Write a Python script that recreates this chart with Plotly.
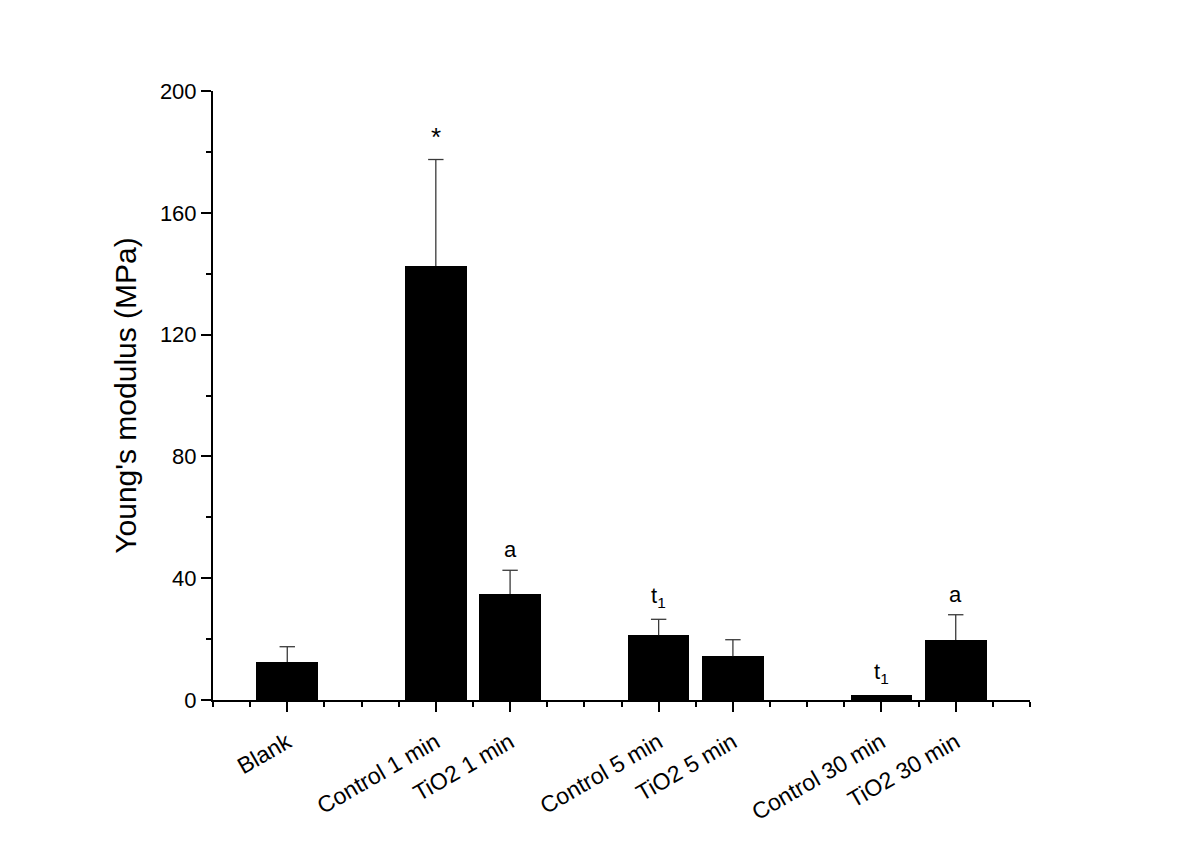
import plotly.graph_objects as go

# Bar data
groups = ["Blank", "Control 1 min", "TiO2 1 min", "Control 5 min",
          "TiO2 5 min", "Control 30 min", "TiO2 30 min"]
positions = [1, 3, 4, 6, 7, 9, 10]
modulus = [12.5, 142.5, 34.8, 21.3, 14.4, 1.6, 19.7]
err_plus = [5.0, 35.0, 7.8, 5.2, 5.4, 0.0, 8.3]
marks = ["", "*", "a", "t<sub>1</sub>", "", "t<sub>1</sub>", "a"]

FONT = "Liberation Sans, Arial"

fig = go.Figure()

fig.add_trace(go.Bar(
    x=positions, y=modulus, width=0.83,
    marker=dict(color="black", line=dict(width=0)),
    showlegend=False, hoverinfo="x+y",
))

# one-sided (upper) error bars: whisker line + cap marker
wx, wy, cx, cy = [], [], [], []
for x, y, e in zip(positions, modulus, err_plus):
    if e <= 0:
        continue
    wx += [x, x, None]
    wy += [y, y + e, None]
    cx.append(x)
    cy.append(y + e)

fig.add_trace(go.Scatter(x=wx, y=wy, mode="lines",
                         line=dict(color="#3a3a3a", width=1.3),
                         showlegend=False, hoverinfo="skip"))
fig.add_trace(go.Scatter(x=cx, y=cy, mode="markers",
                         marker=dict(symbol="line-ew", size=11,
                                     line=dict(color="#3a3a3a", width=1.3)),
                         showlegend=False, hoverinfo="skip"))

# significance letters above the bars
for x, y, e, m in zip(positions, modulus, err_plus, marks):
    if not m:
        continue
    fig.add_annotation(x=x, y=y + e, text=m, showarrow=False,
                       yanchor="bottom", yshift=6,
                       font=dict(family=FONT, size=26 if m == "*" else 22,
                                 color="black"))

fig.update_xaxes(
    range=[0, 11], tickmode="array", tickvals=positions, ticktext=groups,
    tickangle=-30, ticks="outside", ticklen=10, tickwidth=2, tickcolor="black",
    ticklabelstandoff=8,
    showline=True, linewidth=2, linecolor="black", showgrid=False, zeroline=False,
    minor=dict(tickmode="array", tickvals=[0, 2, 5, 8, 11] + [i + 0.5 for i in range(11)],
               ticks="outside", ticklen=5, tickwidth=2, tickcolor="black"),
    tickfont=dict(family=FONT, size=23, color="black"),
)
fig.update_yaxes(
    range=[0, 200], tickvals=[0, 40, 80, 120, 160, 200],
    ticks="outside", ticklen=10, tickwidth=2, tickcolor="black",
    showline=True, linewidth=2, linecolor="black", showgrid=False, zeroline=False,
    minor=dict(tickvals=[20, 60, 100, 140, 180], ticks="outside",
               ticklen=5, tickwidth=2, tickcolor="black"),
    tickfont=dict(family=FONT, size=22, color="black"),
    title=dict(text="Young's modulus (MPa)", standoff=14,
               font=dict(family=FONT, size=30, color="black")),
)

fig.update_layout(
    width=1200, height=848,
    margin=dict(l=205, r=178, t=83, b=156, autoexpand=False),
    plot_bgcolor="white", paper_bgcolor="white",
    bargap=0,
)

fig.write_html("out.html")
